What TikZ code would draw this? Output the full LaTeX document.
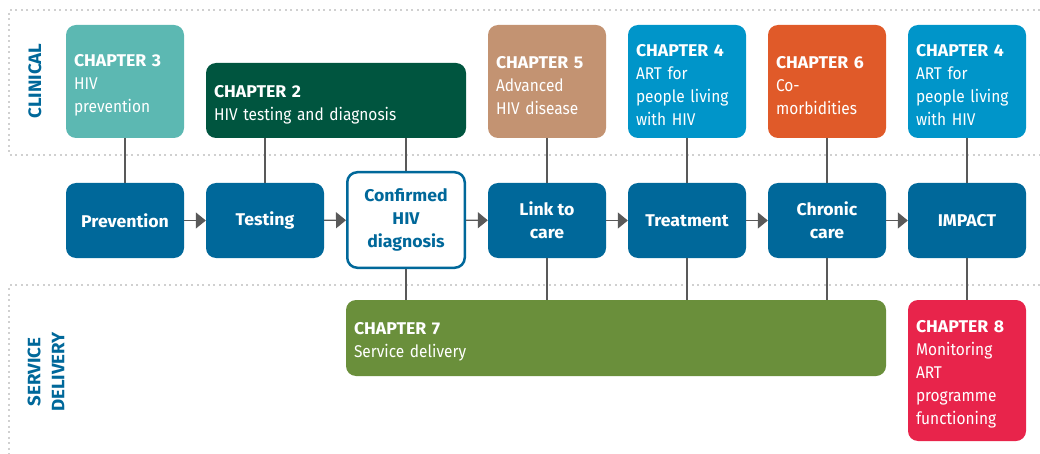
\documentclass[tikz,border=0pt]{standalone}
\usepackage{fontspec}
\setmainfont{Fira Sans}[FakeStretch=0.91, BoldFeatures={FakeStretch=1.04}]
\usetikzlibrary{arrows.meta}

\definecolor{stepblue}{HTML}{00689A}
\definecolor{chapteal}{HTML}{5CB8B2}
\definecolor{chapdkgreen}{HTML}{00553F}
\definecolor{chaptan}{HTML}{C39372}
\definecolor{chapblue}{HTML}{0095C9}
\definecolor{chaporange}{HTML}{E05A29}
\definecolor{chapgreen}{HTML}{6A8F3B}
\definecolor{chapred}{HTML}{E8244B}
\definecolor{linkgray}{HTML}{595959}
\definecolor{zonegray}{HTML}{D0D0D0}

\begin{document}
\begin{tikzpicture}[x=1pt, y=-1pt,
    every node/.style={font=\fontsize{17}{23}\selectfont},
    chapbox/.style={rounded corners=10pt, text=white, align=left, text width=102pt, inner xsep=8pt, minimum height=113pt,
        execute at begin node={\rule{0pt}{20pt}}},
    stepbox/.style={rounded corners=10pt, fill=stepblue, text=white, font=\fontsize{17}{23}\selectfont\bfseries, align=center, minimum width=118pt, minimum height=75pt},
    zonelabel/.style={rotate=90, text=stepblue, align=center, font=\fontsize{18}{24}\selectfont\bfseries},
    link/.style={draw=linkgray, line width=1.3pt},
    flow/.style={link, -{Triangle[length=10pt, width=16pt]}},
    zone/.style={draw=zonegray, line width=2pt, dash pattern=on 2pt off 3.5pt}]

        \useasboundingbox (0,0) rectangle (1040,454);

        % ------------------ Zones ------------------

        \draw[zone] (1040,10) -- (9,10) -- (9,155) -- (1040,155);
        \draw[zone] (1040,285) -- (9,285) -- (9,454);

        \node[zonelabel] (clinical) at (35,81) {CLINICAL};
        \node[zonelabel] (service) at (46,372) {SERVICE\\DELIVERY};

        % ------------------ Clinical chapters ------------------

        \node[chapbox, fill=chapteal] (ch3) at (125,81.5) {\textbf{CHAPTER 3}\\HIV\\prevention};
        \node[chapbox, fill=chapdkgreen, text width=244pt, minimum height=75pt] (ch2) at (336,100.5) {\textbf{CHAPTER 2}\\HIV testing and diagnosis};
        \node[chapbox, fill=chaptan] (ch5) at (547,81.5) {\textbf{CHAPTER 5}\\Advanced\\HIV disease};
        \node[chapbox, fill=chapblue] (ch4a) at (687,81.5) {\textbf{CHAPTER 4}\\ART for\\people living\\with HIV};
        \node[chapbox, fill=chaporange] (ch6) at (827,81.5) {\textbf{CHAPTER 6}\\Co-\\morbidities};
        \node[chapbox, fill=chapblue] (ch4b) at (967,81.5) {\textbf{CHAPTER 4}\\ART for\\people living\\with HIV};

        % ------------------ Cascade ------------------

        \node[stepbox] (prevention) at (125,220.5) {Prevention};
        \node[stepbox] (testing) at (265,220.5) {Testing};
        \node[stepbox, fill=white, draw=stepblue, line width=2.5pt, text=stepblue, minimum width=117.5pt, minimum height=95.5pt] (confirmed) at (406,220) {Confirmed\\HIV\\diagnosis};
        \node[stepbox] (linkcare) at (547,220.5) {Link to\\care};
        \node[stepbox] (treatment) at (687,220.5) {Treatment};
        \node[stepbox] (chronic) at (827,220.5) {Chronic\\care};
        \node[stepbox] (impact) at (967,220.5) {IMPACT};

        \draw[flow] (prevention) -- (testing);
        \draw[flow] (testing) -- (confirmed);
        \draw[flow] (confirmed) -- (linkcare);
        \draw[flow] (linkcare) -- (treatment);
        \draw[flow] (treatment) -- (chronic);
        \draw[flow] (chronic) -- (impact);

        % ------------------ Service delivery chapters ------------------

        \node[chapbox, fill=chapgreen, text width=524pt, minimum height=76pt] (ch7) at (616,338) {\textbf{CHAPTER 7}\\Service delivery};
        \node[chapbox, fill=chapred, minimum height=141pt] (ch8) at (967,370.5) {\textbf{CHAPTER 8}\\Monitoring\\ART\\programme\\functioning};

        % Links
        \draw[link] (ch3) -- (prevention);
        \draw[link] (testing.north) -- (testing.north |- ch2.south);
        \draw[link] (confirmed.north) -- (confirmed.north |- ch2.south);
        \draw[link] (ch5) -- (linkcare);
        \draw[link] (ch4a) -- (treatment);
        \draw[link] (ch6) -- (chronic);
        \draw[link] (ch4b) -- (impact);

        \draw[link] (confirmed.south) -- (confirmed.south |- ch7.north);
        \draw[link] (linkcare.south) -- (linkcare.south |- ch7.north);
        \draw[link] (treatment.south) -- (treatment.south |- ch7.north);
        \draw[link] (chronic.south) -- (chronic.south |- ch7.north);
        \draw[link] (impact) -- (ch8);

    \end{tikzpicture}
\end{document}
